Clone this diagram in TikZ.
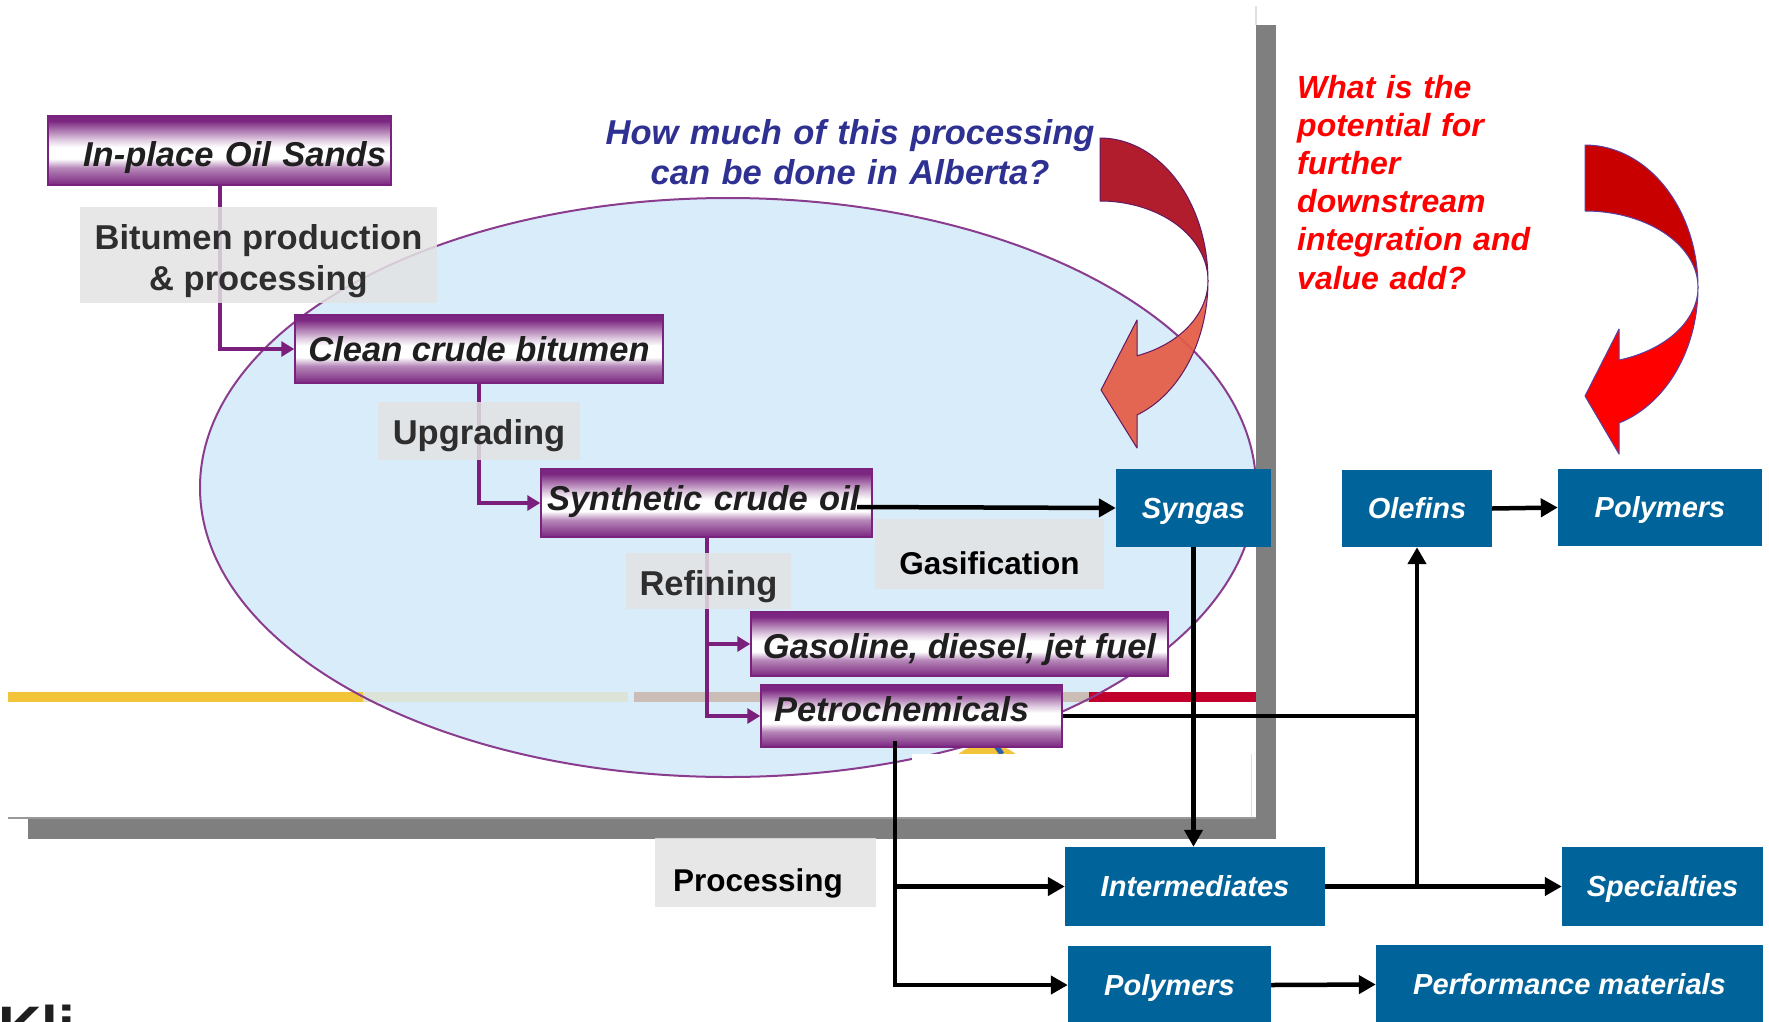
\documentclass[tikz,border=0pt]{standalone}
\usepackage{fontspec}
\setmainfont{Liberation Sans}
\usetikzlibrary{arrows.meta}

\definecolor{boxpurple}{HTML}{7B2680}
\definecolor{boxedge}{HTML}{7A237E}
\definecolor{linkpurple}{HTML}{7A1F7C}
\definecolor{bluebox}{HTML}{00639A}
\definecolor{qblue}{HTML}{2E3192}
\definecolor{labelgray}{HTML}{E3E3E3}
\definecolor{panelgray}{HTML}{7F7F7F}
\definecolor{ovalfill}{HTML}{D3E9F8}
\definecolor{ovaledge}{HTML}{8A3C8F}
\definecolor{arrowdark}{HTML}{B21D2E}
\definecolor{arroworange}{HTML}{E35B43}
\definecolor{arrowmaroon}{HTML}{C80000}
\definecolor{arrowred}{HTML}{FF0000}
\definecolor{arrowrim}{HTML}{5B3FA0}
\definecolor{stripyellow}{HTML}{F2C43A}
\definecolor{stripsage}{HTML}{DCE4D8}
\definecolor{stripbeige}{HTML}{CBBDB6}
\definecolor{stripred}{HTML}{C0002A}
\definecolor{chartblue}{HTML}{2B5FB0}

% purple bar: dark edges fading to a white band just below the middle
\pgfdeclareverticalshading{purplebar}{100bp}{%
  color(0bp)=(boxpurple); color(25bp)=(boxpurple); color(37.5bp)=(boxpurple!55);
  color(44bp)=(white); color(52.5bp)=(white); color(58bp)=(boxpurple!25);
  color(71.5bp)=(boxpurple); color(75bp)=(boxpurple); color(100bp)=(boxpurple)}

\tikzset{
  pbox/.style={draw=boxedge, line width=1.5pt, shade, shading=purplebar,
    inner sep=0pt, text=black!88, text depth=0pt,
    font=\fontsize{34.5}{40}\selectfont\bfseries\itshape},
  glabel/.style={fill=labelgray, fill opacity=0.85, text opacity=1,
    inner sep=0pt, text=black!82, text depth=0pt,
    font=\fontsize{34.5}{41}\selectfont\bfseries},
  gnote/.style={glabel, text=black, font=\fontsize{31.5}{38}\selectfont\bfseries},
  bbox/.style={fill=bluebox, inner sep=0pt, text=white, text height=20pt,
    text depth=0pt, font=\fontsize{29}{34}\selectfont\bfseries\itshape},
  plink/.style={draw=linkpurple, line width=4pt,
    -{Triangle[length=13pt,width=15pt]}},
  bline/.style={draw=black, line width=4.5pt},
  blink/.style={bline, -{Triangle[length=17pt,width=18pt]}},
  flowarrow/.style={line width=1pt, line join=round},
}

\begin{document}
\begin{tikzpicture}[x=1pt, y=-1pt]
\useasboundingbox (0,0) rectangle (1769,1021);
\fill[white] (0,0) rectangle (1769,1021);

% ---------- slide panel with the oval ----------
\fill[ovalfill, fill opacity=0.85] (728,487.5) ellipse (528pt and 289.5pt);
\draw[line width=10pt, stripyellow] (8,697) -- (363,697);
\draw[line width=10pt, stripsage] (363,697) -- (628,697);
\draw[line width=10pt, stripbeige] (634,697) -- (1089,697);
\draw[line width=10pt, stripred] (1089,697) -- (1256,697);
\draw[ovaledge, line width=2pt] (728,487.5) ellipse (528pt and 289.5pt);

\begin{scope}
  \clip (900,700) rectangle (1100,754);
  \fill[stripyellow] (987,790) circle (46pt);
  \draw[chartblue, line width=5pt] (990,738) -- (1002,754);
\end{scope}
\fill[white] (912,754) rectangle (1251,818);
\draw[black!12, line width=1pt] (1251,754) -- (1251,818);

\fill[panelgray] (28,819) rectangle (1276,839);
\fill[panelgray] (1256,25) rectangle (1276,839);
\draw[black!40, line width=1.5pt] (8,818) -- (1256,818);
\draw[black!12, line width=2pt] (1256,6) -- (1256,25);

% ---------- upstream chain ----------
\node[pbox, minimum width=343pt, minimum height=69pt, text height=31pt,
  text width=333pt, align=right] (oilsands) at (219.5,150.5) {In-place Oil Sands};
\node[pbox, minimum width=368pt, minimum height=68pt, text height=25.4pt]
  (cleancrude) at (479,349) {Clean crude bitumen};
\node[pbox, minimum width=331pt, minimum height=68pt, text height=15.4pt,
  text width=319pt, align=left] (synthetic) at (706.5,503) {Synthetic crude oil};
\node[pbox, minimum width=417pt, minimum height=64pt, text height=28.6pt]
  (gasoline) at (959.5,644) {Gasoline, diesel, jet fuel};
\node[pbox, minimum width=301pt, minimum height=62pt, text height=11.4pt,
  text width=275pt, align=left] (petro) at (911.5,716) {Petrochemicals};

\draw[plink] (oilsands.south) |- (cleancrude.west);
\draw[plink] (cleancrude.south) |- (synthetic.west);
\draw[plink] (synthetic.south) |- (gasoline.west);
\draw[plink] (synthetic.south) |- (petro.west);

\node[glabel, minimum width=357pt, minimum height=96pt, align=center,
  text height=70pt, text depth=0pt] (bitumen) at (258.5,255)
  {Bitumen production\\\& processing};
\node[glabel, minimum width=202pt, minimum height=58pt, text height=27pt]
  (upgrading) at (479,431) {Upgrading};
\node[glabel, minimum width=165pt, minimum height=56pt, text height=28pt]
  (refining) at (708.5,581) {Refining};
\node[gnote, minimum width=229pt, minimum height=70pt, text height=40pt]
  (gasification) at (989.5,554) {Gasification};
\node[gnote, minimum width=221pt, minimum height=69pt, text height=37pt,
  text width=185pt, align=left] (processing) at (765.5,872.5) {Processing};

% ---------- curved arrows ----------
\filldraw[arrowdark, draw=linkpurple!80!black, flowarrow]
  plot[domain=90:0, samples=40, variable=\t] ({1100+108*cos(\t)},{280.8-142.8*sin(\t)})
  -- plot[domain=0:90, samples=40, variable=\t] ({1100+108*cos(\t)},{280.8-79.8*sin(\t)})
  -- cycle;
\filldraw[arroworange, fill opacity=0.92, draw=linkpurple!80!black, flowarrow]
  plot[domain=0:-69.96, samples=40, variable=\t] ({1100+108*cos(\t)},{280.8-142.8*sin(\t)})
  -- (1137,448) -- (1101,390) -- (1137,320)
  -- plot[domain=-69.96:0, samples=40, variable=\t] ({1100+108*cos(\t)},{280.8-79.8*sin(\t)})
  -- cycle;

\filldraw[arrowmaroon, draw=arrowrim, flowarrow]
  plot[domain=90:0, samples=40, variable=\t] ({1585+113*cos(\t)},{287.3-142.3*sin(\t)})
  -- plot[domain=0:90, samples=40, variable=\t] ({1585+113*cos(\t)},{287.3-76.3*sin(\t)})
  -- cycle;
\filldraw[arrowred, draw=arrowrim, flowarrow]
  plot[domain=0:-72.49, samples=40, variable=\t] ({1585+113*cos(\t)},{287.3-142.3*sin(\t)})
  -- (1619,454) -- (1585,396) -- (1619,329)
  -- plot[domain=-72.49:0, samples=40, variable=\t] ({1585+113*cos(\t)},{287.3-76.3*sin(\t)})
  -- cycle;

% ---------- questions ----------
\node[anchor=base, text width=540pt, align=center, inner sep=0pt, text=qblue,
  font=\fontsize{34.5}{40.6}\selectfont\bfseries\itshape] (question) at (850,144)
  {How much of this processing\\can be done in Alberta?};
\node[anchor=base west, text width=320pt, align=left, inner sep=0pt, text=arrowred,
  font=\fontsize{32}{38.2}\selectfont\bfseries\itshape] (potential) at (1297,98)
  {What is the\\potential for\\further\\downstream\\integration and\\value add?};

% ---------- downstream products ----------
\node[bbox, minimum width=155pt, minimum height=78pt] (syngas) at (1193.5,508) {Syngas};
\node[bbox, minimum width=150pt, minimum height=77pt] (olefins) at (1417,508.5) {Olefins};
\node[bbox, minimum width=204pt, minimum height=77pt] (polytop) at (1660,507.5) {Polymers};
\node[bbox, minimum width=260pt, minimum height=79pt] (interm) at (1195,886.5) {Intermediates};
\node[bbox, minimum width=201pt, minimum height=79pt] (spec) at (1662.5,886.5) {Specialties};
\node[bbox, minimum width=203pt, minimum height=78pt] (polybot) at (1169.5,985) {Polymers};
\node[bbox, minimum width=387pt, minimum height=79pt] (perf) at (1569.5,984.5) {Performance materials};

\coordinate (scoOut) at (857,507);
\coordinate (petroDrop) at (895,741);

\draw[blink] (scoOut) -- (syngas.west);
\draw[blink] (syngas.south) -- (syngas.south |- interm.north);
\draw[bline] (petro.east) -- (petro.east -| olefins.south);
\draw[blink] (olefins.south |- interm.east) -- (olefins.south);
\draw[blink] (interm.east) -- (spec.west);
\draw[blink] (olefins.east) -- (polytop.west);
\draw[blink] (petroDrop) |- (interm.west);
\draw[blink] (petroDrop) |- (polybot.west);
\draw[blink] (polybot.east) -- (perf.west);

% ---------- caption fragment at the lower edge ----------
\begin{scope}
  \clip (0,0) rectangle (1769,1021);
  \node[anchor=base west, inner sep=0pt, text=black!88,
    font=\fontsize{60}{70}\selectfont\bfseries] (kli) at (-2,1048) {Kli};
\end{scope}
\end{tikzpicture}
\end{document}
